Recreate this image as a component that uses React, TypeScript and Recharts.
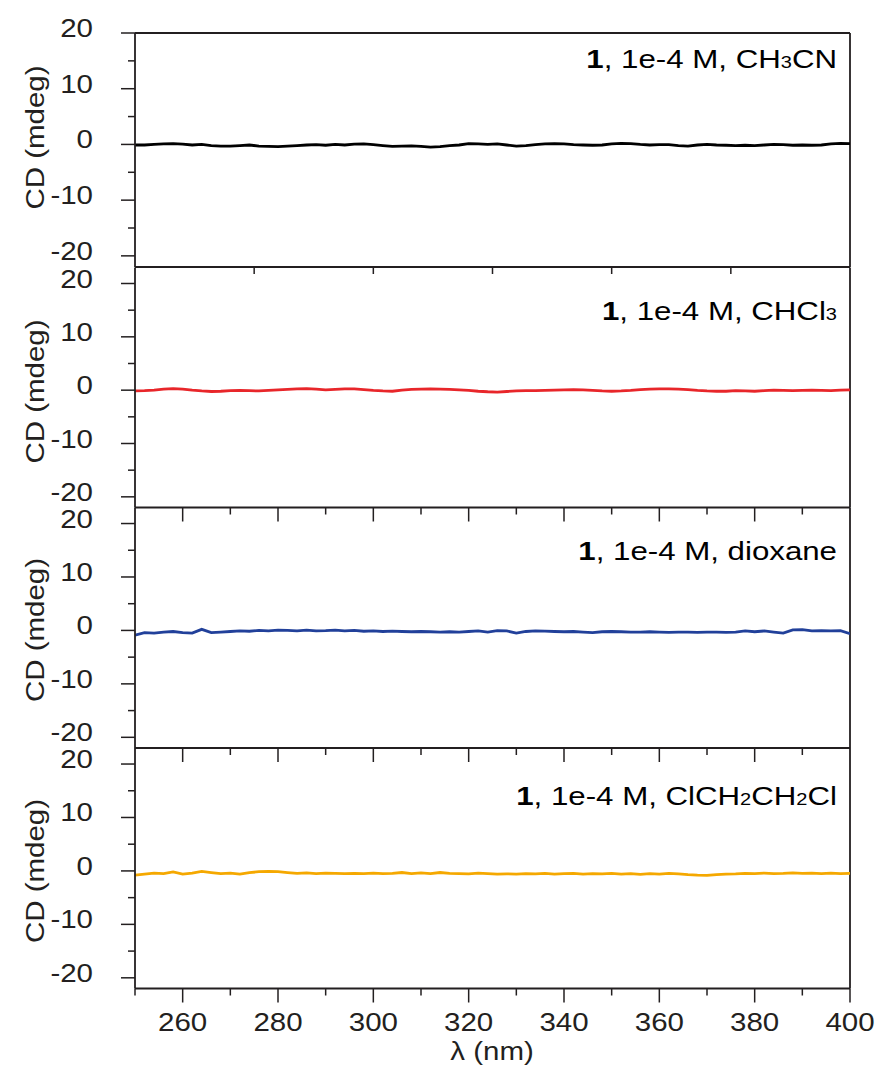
import React from 'react';
import { LineChart, Line, XAxis, YAxis, ReferenceLine } from 'recharts';

const wavelengths = [250,252,254,256,258,260,262,264,266,268,270,272,274,276,278,280,282,284,286,288,290,292,294,296,298,300,302,304,306,308,310,312,314,316,318,320,322,324,326,328,330,332,334,336,338,340,342,344,346,348,350,352,354,356,358,360,362,364,366,368,370,372,374,376,378,380,382,384,386,388,390,392,394,396,398,400];

const cdCH3CN = [-0.1,-0.1,0.0,0.1,0.15,0.05,-0.1,0.0,-0.2,-0.3,-0.3,-0.2,-0.1,-0.3,-0.35,-0.4,-0.3,-0.2,-0.1,-0.05,-0.15,0.0,-0.1,0.05,0.1,-0.05,-0.2,-0.35,-0.3,-0.25,-0.35,-0.5,-0.4,-0.2,-0.1,0.15,0.1,0.0,0.1,-0.1,-0.3,-0.2,-0.05,0.1,0.15,0.1,-0.05,-0.1,-0.15,-0.1,0.1,0.2,0.15,0.0,-0.1,-0.05,-0.05,-0.2,-0.3,-0.1,0.0,-0.1,-0.15,-0.2,-0.15,-0.2,-0.1,0.0,-0.05,-0.15,-0.1,-0.15,-0.1,0.1,0.2,0.15];

const cdCHCl3 = [-0.15,-0.1,0.0,0.2,0.3,0.2,0.0,-0.15,-0.25,-0.2,-0.1,-0.05,-0.1,-0.15,-0.05,0.05,0.15,0.25,0.3,0.2,0.05,0.15,0.25,0.25,0.1,-0.05,-0.15,-0.2,0.0,0.15,0.2,0.25,0.2,0.15,0.05,-0.05,-0.2,-0.3,-0.35,-0.25,-0.15,-0.1,-0.1,-0.05,0.0,0.05,0.1,0.05,-0.05,-0.15,-0.2,-0.15,-0.05,0.1,0.2,0.25,0.25,0.2,0.1,-0.05,-0.15,-0.2,-0.2,-0.1,-0.15,-0.2,-0.1,0.0,-0.05,-0.1,-0.05,0.0,-0.05,-0.1,0.0,0.05];

const cdDioxane = [-0.9,-0.4,-0.5,-0.3,-0.2,-0.4,-0.5,0.2,-0.4,-0.3,-0.2,-0.1,-0.15,0.0,-0.1,0.05,0.0,-0.1,0.05,-0.1,-0.05,0.05,-0.1,0.0,-0.15,-0.1,-0.2,-0.15,-0.2,-0.25,-0.2,-0.25,-0.3,-0.25,-0.3,-0.2,-0.1,-0.3,-0.05,-0.1,-0.5,-0.2,-0.1,-0.15,-0.2,-0.25,-0.2,-0.3,-0.4,-0.25,-0.2,-0.25,-0.3,-0.3,-0.25,-0.3,-0.35,-0.3,-0.3,-0.35,-0.3,-0.3,-0.35,-0.3,-0.1,-0.25,-0.1,-0.3,-0.5,0.1,0.15,-0.1,-0.05,-0.1,-0.05,-0.6];

const cdDCE = [-0.8,-0.6,-0.4,-0.5,-0.2,-0.6,-0.4,-0.1,-0.3,-0.5,-0.4,-0.6,-0.3,-0.15,-0.1,-0.15,-0.3,-0.45,-0.35,-0.5,-0.4,-0.45,-0.5,-0.45,-0.5,-0.4,-0.5,-0.45,-0.3,-0.5,-0.35,-0.5,-0.3,-0.45,-0.5,-0.55,-0.4,-0.5,-0.6,-0.55,-0.6,-0.5,-0.55,-0.45,-0.6,-0.5,-0.45,-0.6,-0.5,-0.55,-0.45,-0.6,-0.5,-0.65,-0.5,-0.6,-0.45,-0.55,-0.7,-0.8,-0.85,-0.7,-0.6,-0.55,-0.45,-0.5,-0.4,-0.5,-0.45,-0.35,-0.45,-0.4,-0.5,-0.4,-0.5,-0.45];

const yTickValues = [-20, -15, -10, -5, 0, 5, 10, 15, 20];
const xTicksTopPanel = [275, 300, 325, 350, 375];
const xTicksLower = [250,260,270,280,290,300,310,320,330,340,350,360,370,380,390,400];

const data = wavelengths.map((wl, i) => ({
  wl,
  ch3cn: cdCH3CN[i],
  chcl3: cdCHCl3[i],
  dioxane: cdDioxane[i],
  dce: cdDCE[i],
}));

type Seg = [string, boolean];
const titleCH3CN: Seg[] = [['CH', false], ['3', true], ['CN', false]];
const titleCHCl3: Seg[] = [['CHCl', false], ['3', true]];
const titleDioxane: Seg[] = [['dioxane', false]];
const titleDCE: Seg[] = [['ClCH', false], ['2', true], ['CH', false], ['2', true], ['Cl', false]];

const W = 881;
const H = 1086;
const FONT = '"Liberation Sans", Arial, Helvetica, sans-serif';
const INK = '#231f20';
const FS = 25;
const SX = 1.18;
const TSX = 1.25;

const panels = [
  { key: 'ch3cn', color: '#000000', top: 33, bottom: 267, domain: [-22, 20], xTicks: xTicksTopPanel, xMode: 'top', labelCy: 137.5, titleY: 68, title: titleCH3CN },
  { key: 'chcl3', color: '#e8262a', top: 267.5, bottom: 507.5, domain: [-22, 23], xTicks: xTicksLower, xMode: 'mid', labelCy: 391.5, titleY: 320, title: titleCHCl3 },
  { key: 'dioxane', color: '#21409a', top: 507.5, bottom: 748, domain: [-22, 23], xTicks: xTicksLower, xMode: 'mid', labelCy: 630, titleY: 560, title: titleDioxane },
  { key: 'dce', color: '#f5a800', top: 748, bottom: 988.5, domain: [-22, 23], xTicks: xTicksLower, xMode: 'last', labelCy: 871, titleY: 805, title: titleDCE },
];

const YTick = (props: any) => {
  const { x, y, payload } = props;
  const v = payload.value;
  const major = v % 10 === 0;
  return (
    <g>
      <line x1={x - (major ? 14 : 7)} y1={y} x2={x} y2={y} stroke={INK} strokeWidth={1.5} />
      {major && (
        <text transform={`translate(${x - 42},${y + 4}) scale(${SX},1)`} x={0} y={0} textAnchor="end" fontSize={FS} fontFamily={FONT} fill={INK}>
          {v}
        </text>
      )}
    </g>
  );
};

const makeXTick = (mode: string) => (props: any) => {
  const { x, y, payload } = props;
  const v = payload.value;
  if (mode === 'top') {
    return <line x1={x} y1={y} x2={x} y2={y + 7} stroke={INK} strokeWidth={1.5} />;
  }
  const major = v % 20 === 0;
  if (mode === 'mid' && (v === 250 || v === 400)) return <g />;
  return (
    <g>
      <line x1={x} y1={y} x2={x} y2={y + (major ? 14 : 7)} stroke={INK} strokeWidth={1.5} />
      {mode === 'last' && major && (
        <text transform={`translate(${x},${y + 42}) scale(${SX},1)`} x={0} y={0} textAnchor="middle" fontSize={FS} fontFamily={FONT} fill={INK}>
          {v}
        </text>
      )}
    </g>
  );
};

const Panel = ({ p }: { p: any }) => {
  const xAxisH = 30;
  const margin = { top: p.top, left: 75, right: W - 850, bottom: H - p.bottom - xAxisH };
  const yTicks = yTickValues.filter((t) => t >= p.domain[0] && t <= p.domain[1]);
  return (
    <div style={{ position: 'absolute', left: 0, top: 0 }}>
      <LineChart width={W} height={H} data={data} margin={margin}>
        <XAxis
          dataKey="wl"
          type="number"
          domain={[250, 400]}
          ticks={p.xTicks}
          interval={0}
          height={xAxisH}
          tickSize={0}
          tickMargin={0}
          tickLine={false}
          axisLine={{ stroke: INK, strokeWidth: 1.8 }}
          tick={makeXTick(p.xMode)}
          allowDataOverflow
          label={p.xMode === 'last' ? () => (
            <text transform={`translate(492,1060) scale(${SX},1)`} x={0} y={0} textAnchor="middle" fontSize={FS} fontFamily={FONT} fill={INK}>λ (nm)</text>
          ) : undefined}
        />
        <YAxis
          type="number"
          domain={p.domain}
          ticks={yTicks}
          interval={0}
          width={60}
          tickSize={0}
          tickMargin={0}
          tickLine={false}
          axisLine={{ stroke: INK, strokeWidth: 1.8 }}
          tick={YTick}
          allowDataOverflow
          label={() => (
            <text transform={`translate(43.5,${p.labelCy}) rotate(-90) scale(${SX},1)`} x={0} y={0} textAnchor="middle" fontSize={FS} fontFamily={FONT} fill={INK}>CD (mdeg)</text>
          )}
        />
        {p.xMode === 'top' && <ReferenceLine y={20} stroke={INK} strokeWidth={1.8} />}
        <ReferenceLine
          x={400}
          stroke={INK}
          strokeWidth={1.8}
          label={() => (
            <text transform={`translate(837,${p.titleY}) scale(${TSX},1)`} x={0} y={0} textAnchor="end" fontSize={FS} fontFamily={FONT} fill="#000">
              <tspan fontWeight="bold">1</tspan>
              <tspan>, 1e-4 M, </tspan>
              {p.title.map((s: Seg, i: number) => (
                <tspan key={i} fontSize={s[1] ? 16 : FS}>{s[0]}</tspan>
              ))}
            </text>
          )}
        />
        <Line
          type="linear"
          dataKey={p.key}
          stroke={p.color}
          strokeWidth={2.8}
          dot={false}
          isAnimationActive={false}
        />
      </LineChart>
    </div>
  );
};

export default function App() {
  return (
    <div style={{ position: 'absolute', left: 0, top: 0, width: W, height: H, background: '#fff' }}>
      {panels.map((p) => (
        <Panel key={p.key} p={p} />
      ))}
    </div>
  );
}
